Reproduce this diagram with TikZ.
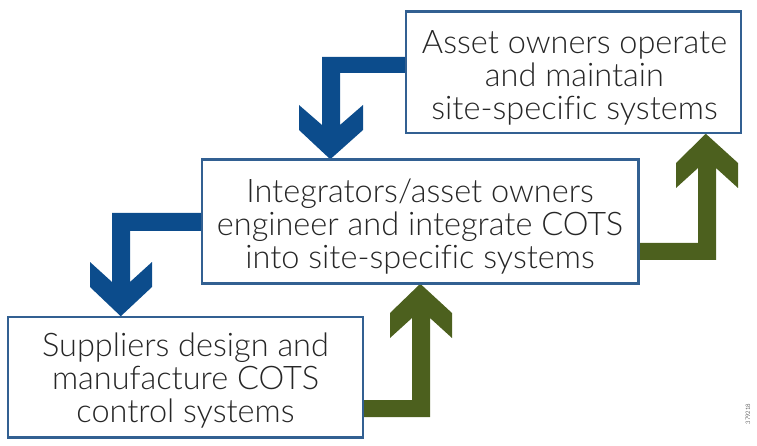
\documentclass[tikz,border=0pt]{standalone}
\usepackage{fontspec}
\IfFontExistsTF{Lato Light}{\setmainfont{Lato Light}[Ligatures=NoCommon]}{\setmainfont{Lato}[Ligatures=NoCommon]}
\usetikzlibrary{calc}
\definecolor{arrowblue}{RGB}{12,76,140}
\definecolor{arrowgreen}{RGB}{76,96,30}
\definecolor{boxline}{RGB}{50,96,146}
\definecolor{txt}{RGB}{38,38,38}
\tikzset{
  box/.style={draw=boxline, line width=1.5pt, fill=white, inner sep=0pt},
  boxtext/.style={inner sep=0pt, align=center, text=txt, font=\fontsize{32.5}{33}\selectfont},
}
\begin{document}
\begin{tikzpicture}[x=1pt,y=-1pt]
\useasboundingbox (0,0) rectangle (757,446);
% boxes
\node[box, minimum width=334pt, minimum height=121pt] (b1) at (573.5,72.5) {};
\node[box, minimum width=436pt, minimum height=123pt] (b2) at (420,221.5) {};
\node[box, minimum width=354pt, minimum height=120pt] (b3) at (185.5,377) {};
\node[boxtext] (t1) at ($(b1.center)+(1,5)$) {Asset owners operate\\and maintain\\site-specific systems};
\node[boxtext] (t2) at ($(b2.center)+(0,5)$) {Integrators/asset owners\\engineer and integrate COTS\\into site-specific systems};
\node[boxtext] (t3) at ($(b3.center)+(0,4)$) {Suppliers design and\\manufacture COTS\\control systems};
% arrow tips on the boxes
\path (b2.north west) ++(129,0) coordinate (tipA);
\path (b3.north west) ++(113,0) coordinate (tipB);
\path (b2.south west) ++(219,0) coordinate (tipC);
\path (b1.south west) ++(300,0) coordinate (tipD);
% blue arrows (down)
\fill[arrowblue] (b1.west |- 0,57) -- (322,57) -- (322,125) -- (299,105) -- (299,130)
  -- (tipA) -- (363,130) -- (363,105) -- (340,125) -- (340,73) -- (b1.west |- 0,73) -- cycle;
\fill[arrowblue] (b2.west |- 0,213) -- (112,213) -- (112,282) -- (90,262) -- (90,287)
  -- (tipB) -- (152,287) -- (152,262) -- (130,282) -- (130,231) -- (b2.west |- 0,231) -- cycle;
% green arrows (up)
\fill[arrowgreen] (b3.east |- 0,417) -- (430,417) -- (430,318) -- (452,338) -- (452,313)
  -- (tipC) -- (390,313) -- (390,338) -- (412,318) -- (412,400) -- (b3.east |- 0,400) -- cycle;
\fill[arrowgreen] (b2.east |- 0,260) -- (716,260) -- (716,168) -- (738,188) -- (738,163)
  -- (tipD) -- (676,163) -- (676,188) -- (698,168) -- (698,243) -- (b2.east |- 0,243) -- cycle;
% box borders on top
\draw[boxline, line width=1.5pt] (b1.north west) rectangle (b1.south east);
\draw[boxline, line width=1.5pt] (b2.north west) rectangle (b2.south east);
\draw[boxline, line width=1.5pt] (b3.north west) rectangle (b3.south east);
\node[rotate=90, font=\fontsize{6}{7}\selectfont, inner sep=0pt] (lbl) at (748,414) {379218};
\end{tikzpicture}
\end{document}
